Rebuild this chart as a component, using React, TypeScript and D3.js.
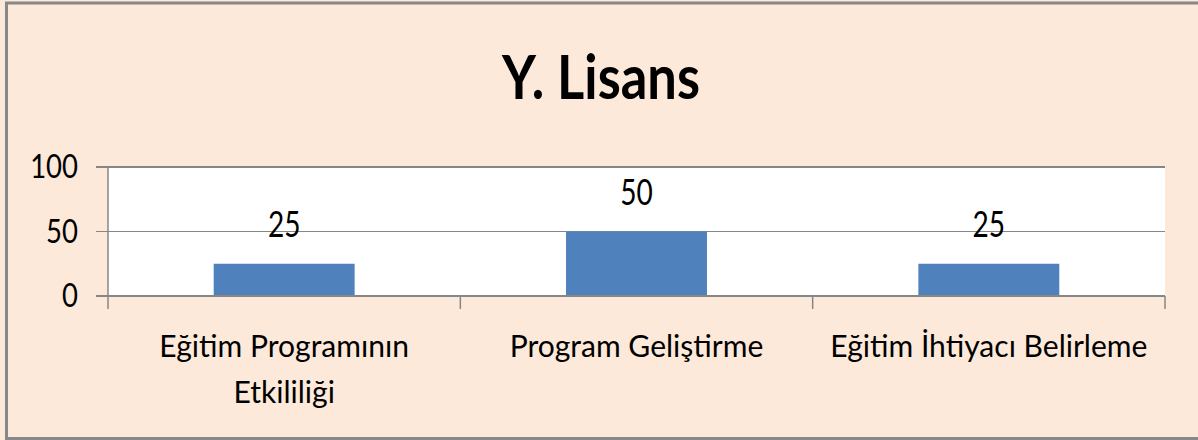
import React from "react";
import * as d3 from "d3";

const title = "Y. Lisans";
const categories = ["Eğitim Programının\nEtkililiği", "Program Geliştirme", "Eğitim İhtiyacı Belirleme"];
const values = [25, 50, 25];
const yTicks = [0, 50, 100];

const W = 1198;
const H = 440;
const FONT = "Lato, 'Open Sans', sans-serif";

export default function App() {
  const plot = { left: 108, right: 1165, top: 167, bottom: 296 };
  const x = d3.scaleBand<string>().domain(categories).range([plot.left, plot.right]).padding(0);
  const y = d3.scaleLinear().domain([0, 100]).range([plot.bottom, plot.top]);
  const bw = x.bandwidth();
  const barW = bw * 0.4;
  const grid = "#868686";

  return (
    <svg width={W} height={H} style={{ position: "absolute", left: 0, top: 0, display: "block" }}>
      <rect x={0} y={0} width={W} height={H} fill="#FDE9D9" />
      <rect x={6.5} y={3} width={W + 10} height={435.5} fill="none" stroke="#888888" strokeWidth={3} />

      <text
        transform={`translate(${W / 2 + 2},${99}) scale(0.86,1)`}
        textAnchor="middle"
        fontFamily={FONT}
        fontWeight="bold"
        fontSize={61}
        fill="#000"
      >
        {title}
      </text>

      <rect x={plot.left} y={plot.top} width={plot.right - plot.left} height={plot.bottom - plot.top} fill="#fff" />

      {yTicks.map((t) => (
        <g key={t}>
          <line
            x1={96}
            x2={plot.right}
            y1={y(t)}
            y2={y(t)}
            stroke={grid}
            strokeWidth={t === 50 ? 1 : 2}
          />
          <text
            transform={`translate(${78},${y(t) + 11}) scale(0.86,1)`}
            textAnchor="end"
            fontFamily={FONT}
            fontSize={32}
            fill="#000"
          >
            {t}
          </text>
        </g>
      ))}

      <line x1={plot.left} x2={plot.left} y1={plot.top} y2={plot.bottom + 13} stroke={grid} strokeWidth={1.5} />
      {categories.map((c, i) => (
        <line
          key={"tk" + i}
          x1={(x(c) as number) + bw}
          x2={(x(c) as number) + bw}
          y1={plot.bottom}
          y2={plot.bottom + 13}
          stroke={grid}
          strokeWidth={1.5}
        />
      ))}

      {categories.map((c, i) => {
        const cx = (x(c) as number) + bw / 2;
        return (
          <g key={c}>
            <rect
              x={cx - barW / 2}
              y={y(values[i])}
              width={barW}
              height={y(0) - y(values[i]) - 1}
              fill="#4F81BD"
            />
            <text
              transform={`translate(${cx},${y(values[i]) - 27}) scale(0.78,1)`}
              textAnchor="middle"
              fontFamily={FONT}
              fontSize={36}
              fill="#000"
            >
              {values[i]}
            </text>
            {c.split("\n").map((line, j) => (
              <text
                key={j}
                transform={`translate(${cx},${357 + j * 46}) scale(0.97,1)`}
                textAnchor="middle"
                fontFamily={FONT}
                fontSize={31}
                fill="#000"
              >
                {line}
              </text>
            ))}
          </g>
        );
      })}
    </svg>
  );
}
